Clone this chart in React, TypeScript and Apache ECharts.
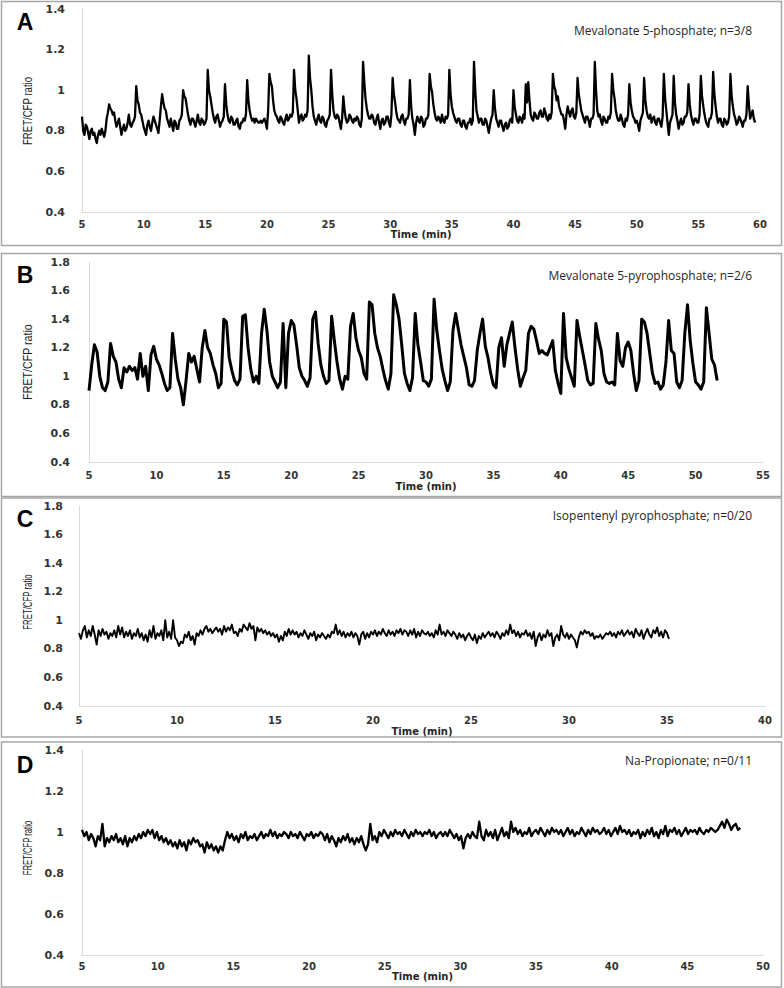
import React, { useEffect, useRef } from "react";
import * as echarts from "echarts";

// ---------- Data (FRET/CFP ratio traces, regular sampling) ----------
const A_START = 5;
const A_STEP = 0.1;
const A_VALUES = [
  0.87, 0.80, 0.78, 0.83, 0.82, 0.79, 0.76, 0.80, 0.81, 0.78, // 5
  0.79, 0.76, 0.74, 0.78, 0.80, 0.78, 0.81, 0.79, 0.77, 0.80, // 6
  0.86, 0.89, 0.93, 0.91, 0.90, 0.88, 0.89, 0.85, 0.82, 0.84, // 7
  0.86, 0.82, 0.78, 0.81, 0.83, 0.80, 0.81, 0.84, 0.88, 0.83, // 8
  0.82, 0.84, 0.85, 0.87, 1.02, 0.95, 0.93, 0.89, 0.88, 0.85, // 9
  0.82, 0.80, 0.78, 0.83, 0.85, 0.82, 0.80, 0.84, 0.87, 0.85, // 10
  0.83, 0.81, 0.79, 0.85, 0.92, 0.98, 0.94, 0.91, 0.90, 0.86, // 11
  0.84, 0.82, 0.86, 0.83, 0.80, 0.85, 0.84, 0.81, 0.81, 0.85, // 12
  0.86, 0.88, 1.00, 0.97, 0.96, 0.92, 0.88, 0.85, 0.83, 0.86, // 13
  0.86, 0.84, 0.82, 0.85, 0.88, 0.84, 0.83, 0.86, 0.85, 0.83, // 14
  0.84, 0.86, 1.10, 1.00, 0.97, 0.93, 0.89, 0.86, 0.84, 0.87, // 15
  0.88, 0.85, 0.82, 0.84, 0.85, 0.87, 1.03, 0.93, 0.88, 0.85, // 16
  0.84, 0.87, 0.86, 0.83, 0.83, 0.85, 0.86, 0.82, 0.81, 0.84, // 17
  0.84, 0.86, 0.85, 0.88, 1.05, 0.95, 0.90, 0.87, 0.85, 0.86, // 18
  0.84, 0.86, 0.85, 0.84, 0.84, 0.85, 0.84, 0.85, 0.86, 0.84, // 19
  0.81, 0.90, 1.08, 1.04, 1.02, 0.95, 0.90, 0.88, 0.87, 0.85, // 20
  0.84, 0.87, 0.86, 0.84, 0.83, 0.86, 0.88, 0.85, 0.86, 0.88, // 21
  0.87, 0.89, 1.10, 1.00, 0.96, 0.90, 0.84, 0.87, 0.88, 0.85, // 22
  0.86, 0.88, 0.87, 0.90, 1.17, 1.06, 1.00, 0.92, 0.87, 0.85, // 23
  0.83, 0.86, 0.88, 0.85, 0.84, 0.87, 0.86, 0.83, 0.82, 0.85, // 24
  0.86, 0.88, 1.10, 0.98, 0.90, 0.87, 0.86, 0.88, 0.87, 0.84, // 25
  0.81, 0.86, 0.97, 0.90, 0.86, 0.84, 0.85, 0.88, 0.87, 0.85, // 26
  0.84, 0.86, 0.85, 0.87, 0.86, 0.83, 0.82, 0.86, 1.14, 1.04, // 27
  0.96, 0.91, 0.88, 0.86, 0.86, 0.88, 0.87, 0.84, 0.83, 0.86, // 28
  0.88, 0.84, 0.81, 0.85, 0.86, 0.83, 0.84, 0.87, 0.87, 0.84, // 29
  0.82, 0.88, 1.06, 0.98, 0.94, 0.89, 0.86, 0.85, 0.84, 0.87, // 30
  0.88, 0.85, 0.83, 0.86, 0.86, 0.88, 1.05, 0.92, 0.86, 0.83, // 31
  0.78, 0.84, 0.87, 0.85, 0.84, 0.87, 0.86, 0.82, 0.83, 0.86, // 32
  0.86, 0.88, 1.08, 1.02, 0.99, 0.93, 0.89, 0.86, 0.85, 0.87, // 33
  0.86, 0.84, 0.88, 0.85, 0.84, 0.87, 0.86, 0.88, 1.10, 0.98, // 34
  0.92, 0.89, 0.87, 0.85, 0.84, 0.86, 0.86, 0.83, 0.82, 0.85, // 35
  0.85, 0.82, 0.81, 0.84, 0.84, 0.86, 0.83, 0.85, 1.14, 1.00, // 36
  0.90, 0.87, 0.84, 0.86, 0.86, 0.83, 0.83, 0.86, 0.85, 0.82, // 37
  0.79, 0.83, 0.86, 0.88, 1.00, 0.91, 0.86, 0.84, 0.82, 0.85, // 38
  0.85, 0.82, 0.80, 0.83, 0.84, 0.81, 0.82, 0.85, 0.86, 0.84, // 39
  1.00, 0.92, 0.88, 0.85, 0.84, 0.87, 0.86, 0.84, 0.88, 0.86, // 40
  1.03, 0.94, 1.04, 0.95, 0.88, 0.86, 0.85, 0.89, 0.88, 0.86, // 41
  0.86, 0.89, 0.90, 0.87, 0.87, 0.91, 0.89, 0.86, 0.85, 0.88, // 42
  0.86, 0.89, 1.08, 1.02, 1.00, 0.95, 0.97, 0.92, 0.90, 0.88, // 43
  0.88, 0.85, 0.81, 0.88, 0.92, 0.89, 0.87, 0.90, 0.91, 0.87, // 44
  0.86, 0.89, 1.06, 0.98, 0.94, 0.90, 0.88, 0.86, 0.84, 0.87, // 45
  0.87, 0.85, 0.82, 0.86, 0.86, 0.88, 1.14, 1.00, 0.90, 0.87, // 46
  0.88, 0.85, 0.83, 0.87, 0.86, 0.84, 0.84, 0.87, 0.86, 0.89, // 47
  1.08, 1.00, 0.96, 0.90, 0.87, 0.85, 0.85, 0.88, 0.86, 0.83, // 48
  0.82, 0.86, 0.85, 0.88, 1.03, 0.94, 0.90, 0.87, 0.86, 0.84, // 49
  0.85, 0.83, 0.80, 0.85, 0.87, 0.89, 1.06, 0.95, 0.90, 0.87, // 50
  0.86, 0.88, 0.84, 0.86, 0.87, 0.84, 0.83, 0.86, 0.86, 0.84, // 51
  0.82, 0.87, 1.08, 0.96, 0.90, 0.84, 0.78, 0.84, 0.86, 0.88, // 52
  1.07, 0.94, 0.88, 0.85, 0.81, 0.84, 0.86, 0.83, 0.84, 0.87, // 53
  0.87, 0.89, 1.03, 0.93, 0.88, 0.85, 0.83, 0.86, 0.86, 0.84, // 54
  0.84, 0.88, 1.07, 0.97, 0.92, 0.88, 0.85, 0.83, 0.82, 0.86, // 55
  0.86, 0.89, 1.09, 0.98, 0.92, 0.87, 0.84, 0.86, 0.86, 0.83, // 56
  0.82, 0.86, 0.85, 0.83, 0.84, 0.87, 1.08, 0.97, 0.92, 0.88, // 57
  0.86, 0.83, 0.84, 0.87, 0.86, 0.84, 0.82, 0.85, 0.85, 0.88, // 58
  1.02, 0.93, 0.86, 0.88, 0.90, 0.86, 0.84, // 59
];

const B_START = 5;
const B_STEP = 0.2;
const B_VALUES = [
  0.90, 1.08, 1.22, 1.17, 1.00, // 5
  0.92, 0.90, 0.96, 1.23, 1.14, // 6
  1.10, 0.98, 0.92, 1.06, 1.03, // 7
  1.07, 1.04, 1.06, 0.98, 1.16, // 8
  1.00, 1.07, 0.90, 1.15, 1.21, // 9
  1.12, 1.08, 1.02, 0.95, 0.90, // 10
  0.92, 1.30, 1.12, 0.98, 0.92, // 11
  0.80, 0.97, 1.16, 1.10, 1.14, // 12
  1.05, 0.96, 1.20, 1.32, 1.20, // 13
  1.16, 1.08, 1.02, 0.92, 0.95, // 14
  1.40, 1.38, 1.13, 1.04, 0.97, // 15
  0.94, 0.98, 1.42, 1.43, 1.20, // 16
  1.05, 0.96, 1.00, 0.95, 1.30, // 17
  1.47, 1.32, 1.10, 1.00, 0.96, // 18
  0.92, 0.96, 1.37, 0.92, 1.30, // 19
  1.39, 1.36, 1.22, 1.06, 1.00, // 20
  0.97, 0.93, 0.99, 1.40, 1.45, // 21
  1.23, 1.08, 1.00, 0.95, 0.97, // 22
  1.42, 1.25, 1.10, 0.98, 0.91, // 23
  1.00, 0.98, 1.35, 1.44, 1.27, // 24
  1.18, 1.13, 1.02, 0.98, 1.52, // 25
  1.50, 1.30, 1.20, 1.14, 1.05, // 26
  0.97, 0.91, 1.02, 1.57, 1.50, // 27
  1.40, 1.22, 1.02, 0.95, 0.90, // 28
  0.99, 1.44, 1.22, 1.10, 0.97, // 29
  0.96, 0.93, 0.98, 1.54, 1.32, // 30
  1.18, 1.05, 0.97, 0.90, 0.96, // 31
  1.32, 1.44, 1.33, 1.22, 1.14, // 32
  1.06, 0.94, 0.93, 0.97, 1.18, // 33
  1.30, 1.40, 1.21, 1.13, 1.02, // 34
  0.94, 0.92, 1.20, 1.27, 1.07, // 35
  1.22, 1.30, 1.38, 1.20, 1.05, // 36
  0.93, 0.99, 1.04, 1.30, 1.35, // 37
  1.33, 1.25, 1.16, 1.18, 1.16, // 38
  1.15, 1.20, 1.25, 1.04, 0.95, // 39
  0.88, 1.44, 1.13, 1.05, 0.99, // 40
  0.93, 1.39, 1.28, 1.18, 1.08, // 41
  0.97, 0.94, 0.95, 1.37, 1.26, // 42
  1.18, 1.02, 0.96, 0.95, 0.96, // 43
  0.94, 1.30, 1.11, 1.07, 1.20, // 44
  1.24, 1.18, 1.02, 0.90, 0.97, // 45
  1.40, 1.38, 1.30, 1.16, 1.02, // 46
  0.95, 0.96, 0.91, 0.94, 1.10, // 47
  1.39, 1.18, 1.16, 0.96, 0.92, // 48
  0.97, 1.30, 1.50, 1.25, 1.09, // 49
  0.96, 0.94, 0.91, 0.96, 1.48, // 50
  1.30, 1.12, 1.08, 0.97, // 51
];

const C_START = 5;
const C_STEP = 0.1;
const C_VALUES = [
  0.91, 0.87, 0.93, 0.96, 0.88, 0.93, 0.89, 0.96, 0.90, 0.83, // 5
  0.93, 0.89, 0.94, 0.90, 0.92, 0.87, 0.91, 0.89, 0.93, 0.88, // 6
  0.96, 0.90, 0.95, 0.88, 0.92, 0.89, 0.93, 0.87, 0.91, 0.89, // 7
  0.94, 0.88, 0.91, 0.86, 0.90, 0.85, 0.93, 0.88, 0.96, 0.87, // 8
  0.91, 0.89, 0.93, 0.86, 1.00, 0.88, 0.92, 0.87, 1.00, 0.88, // 9
  0.86, 0.82, 0.85, 0.84, 0.90, 0.88, 0.92, 0.86, 0.89, 0.83, // 10
  0.91, 0.89, 0.93, 0.90, 0.94, 0.96, 0.92, 0.94, 0.91, 0.93, // 11
  0.95, 0.92, 0.94, 0.90, 0.96, 0.92, 0.95, 0.93, 0.97, 0.91, // 12
  0.92, 0.89, 0.94, 0.92, 0.97, 0.95, 0.93, 0.98, 0.94, 0.96, // 13
  0.86, 0.95, 0.92, 0.94, 0.91, 0.93, 0.90, 0.92, 0.89, 0.91, // 14
  0.88, 0.90, 0.85, 0.89, 0.86, 0.92, 0.89, 0.94, 0.90, 0.93, // 15
  0.90, 0.92, 0.88, 0.91, 0.89, 0.93, 0.90, 0.87, 0.91, 0.89, // 16
  0.92, 0.86, 0.90, 0.88, 0.91, 0.89, 0.87, 0.90, 0.88, 0.92, // 17
  0.91, 0.97, 0.90, 0.93, 0.89, 0.92, 0.88, 0.91, 0.89, 0.92, // 18
  0.88, 0.91, 0.89, 0.83, 0.90, 0.92, 0.87, 0.91, 0.88, 0.92, // 19
  0.90, 0.93, 0.89, 0.92, 0.90, 0.94, 0.91, 0.89, 0.93, 0.90, // 20
  0.92, 0.89, 0.93, 0.91, 0.94, 0.90, 0.93, 0.92, 0.89, 0.93, // 21
  0.90, 0.94, 0.88, 0.92, 0.89, 0.93, 0.91, 0.90, 0.92, 0.89, // 22
  0.91, 0.88, 0.93, 0.90, 0.97, 0.90, 0.92, 0.89, 0.93, 0.91, // 23
  0.89, 0.92, 0.90, 0.87, 0.91, 0.88, 0.90, 0.86, 0.89, 0.91, // 24
  0.88, 0.86, 0.90, 0.84, 0.89, 0.87, 0.91, 0.88, 0.90, 0.92, // 25
  0.89, 0.91, 0.88, 0.92, 0.90, 0.87, 0.91, 0.89, 0.93, 0.90, // 26
  0.97, 0.91, 0.93, 0.89, 0.92, 0.88, 0.91, 0.90, 0.93, 0.89, // 27
  0.91, 0.87, 0.92, 0.82, 0.88, 0.91, 0.86, 0.90, 0.88, 0.93, // 28
  0.89, 0.91, 0.82, 0.88, 0.90, 0.86, 0.96, 0.90, 0.88, 0.91, // 29
  0.87, 0.90, 0.88, 0.86, 0.81, 0.88, 0.92, 0.90, 0.93, 0.91, // 30
  0.92, 0.89, 0.91, 0.87, 0.89, 0.88, 0.90, 0.87, 0.89, 0.91, // 31
  0.90, 0.92, 0.89, 0.91, 0.88, 0.92, 0.90, 0.93, 0.89, 0.91, // 32
  0.93, 0.90, 0.92, 0.88, 0.94, 0.91, 0.89, 0.93, 0.87, 0.91, // 33
  0.94, 0.90, 0.88, 0.93, 0.91, 0.95, 0.89, 0.92, 0.88, 0.93, // 34
  0.91, 0.87, // 35
];

const D_START = 5;
const D_STEP = 0.15;
const D_VALUES = [
  1.01, 0.98, 1.00, 0.96, 0.99, 0.97, 0.93, 0.98, 0.96, 1.04, // 5.0
  0.93, 0.97, 0.95, 0.98, 0.96, 0.99, 0.95, 0.97, 0.94, 0.98, // 6.5
  0.93, 0.97, 0.95, 0.98, 0.96, 0.99, 0.97, 1.00, 0.98, 1.01, // 8.0
  0.99, 1.01, 0.97, 1.00, 0.96, 0.98, 0.95, 0.97, 0.94, 0.96, // 9.5
  0.93, 0.95, 0.92, 0.96, 0.93, 0.95, 0.91, 0.96, 0.94, 0.97, // 11.0
  0.95, 0.96, 0.93, 0.94, 0.90, 0.95, 0.92, 0.94, 0.91, 0.93, // 12.5
  0.90, 0.93, 0.91, 0.96, 1.00, 0.97, 0.99, 0.96, 0.98, 0.95, // 14.0
  0.99, 0.97, 1.00, 0.96, 0.98, 0.97, 0.99, 0.96, 0.98, 1.00, // 15.5
  0.97, 0.99, 0.98, 1.01, 0.98, 1.00, 0.97, 0.99, 0.98, 1.00, // 17.0
  0.99, 0.97, 1.00, 0.98, 0.99, 0.97, 1.00, 0.98, 0.96, 0.99, // 18.5
  0.98, 1.00, 0.97, 0.99, 0.98, 1.00, 0.99, 0.96, 0.99, 0.95, // 20.0
  0.98, 0.96, 0.93, 0.97, 0.95, 0.98, 0.96, 0.99, 0.95, 0.97, // 21.5
  0.94, 0.97, 0.95, 0.98, 0.94, 0.91, 0.94, 1.04, 0.96, 0.98, // 23.0
  0.95, 1.00, 0.98, 1.01, 0.99, 0.97, 1.00, 0.98, 1.01, 0.99, // 24.5
  1.00, 0.98, 1.01, 0.99, 0.97, 1.00, 0.98, 1.01, 0.99, 1.00, // 26.0
  0.98, 1.00, 0.99, 1.01, 0.98, 1.00, 0.97, 0.99, 1.00, 0.98, // 27.5
  1.00, 0.98, 1.01, 0.99, 0.97, 0.99, 0.96, 0.98, 0.92, 0.97, // 29.0
  0.99, 0.97, 1.00, 0.98, 0.97, 1.05, 0.98, 0.96, 1.01, 0.98, // 30.5
  1.00, 0.97, 1.01, 0.96, 0.99, 1.02, 0.98, 1.00, 0.97, 1.05, // 32.0
  1.00, 1.02, 0.99, 1.01, 0.98, 1.00, 0.99, 1.02, 0.98, 1.00, // 33.5
  1.01, 0.99, 1.02, 1.00, 0.98, 1.01, 0.99, 1.02, 1.00, 1.01, // 35.0
  0.99, 1.01, 0.98, 1.00, 1.02, 0.99, 1.01, 0.98, 1.00, 0.99, // 36.5
  1.02, 1.00, 0.98, 1.01, 0.99, 1.02, 1.00, 1.01, 0.99, 1.00, // 38.0
  1.02, 0.99, 1.01, 0.98, 1.00, 1.02, 0.99, 1.03, 1.00, 1.01, // 39.5
  0.99, 1.01, 0.98, 1.00, 0.99, 1.01, 0.97, 1.00, 0.98, 1.01, // 41.0
  0.99, 1.02, 0.98, 1.00, 0.97, 1.01, 0.99, 1.03, 0.98, 1.01, // 42.5
  1.00, 1.02, 0.99, 1.01, 0.98, 1.00, 1.02, 0.99, 1.01, 1.00, // 44.0
  1.01, 0.99, 1.02, 1.00, 0.99, 1.01, 1.00, 1.02, 1.01, 1.00, // 45.5
  1.01, 1.03, 1.05, 1.02, 1.06, 1.04, 1.01, 1.03, 1.04, 1.01, // 47.0
  1.02, // 48.5
];

const PANEL_LETTERS = ["A", "B", "C", "D"];
const PANEL_NOTES = [
  "Mevalonate 5-phosphate; n=3/8",
  "Mevalonate 5-pyrophosphate; n=2/6",
  "Isopentenyl pyrophosphate; n=0/20",
  "Na-Propionate; n=0/11",
];
const X_RANGES = [
  [5, 60],
  [5, 55],
  [5, 40],
  [5, 50],
];
const Y_RANGES = [
  [0.4, 1.4],
  [0.4, 1.8],
  [0.4, 1.8],
  [0.4, 1.4],
];
const X_TITLE = "Time (min)";
const Y_TITLE = "FRET/CFP ratio";

// ---------- Layout ----------
const W = 784;
const H = 988;
const PANELS = [
  { box: [1.5, 1.5, 780, 244], grid: [82, 9, 678, 203], ylm: 17, xlm: 7, gap: 17, yname: [27.5, 111, 0.74], lw: 2.3 },
  { box: [1.5, 253.5, 780, 243], grid: [89, 262, 674, 200], ylm: 19, xlm: 8, gap: 19, yname: [28, 362, 0.82], lw: 3 },
  { box: [1.5, 498, 780, 239], grid: [79, 506, 686, 200], ylm: 16, xlm: 9, gap: 20, yname: [27, 602, 0.6], lw: 1.9 },
  { box: [1.5, 742, 780, 245], grid: [82, 750, 681, 205], ylm: 18, xlm: 6, gap: 16, yname: [27, 848, 0.59], lw: 2.3 },
];
const LETTER_Y = [22, 275, 519, 765];
const NOTE_Y = [30, 275, 515, 760];

function toPairs(start: number, step: number, vals: number[]) {
  return vals.map((v, i) => [Math.round((start + i * step) * 1000) / 1000, v]);
}

export default function App() {
  const ref = useRef<HTMLDivElement>(null);
  useEffect(() => {
    document.body.style.margin = "0";
    if (!ref.current) return;
    const chart = echarts.init(ref.current, undefined, { renderer: "svg" });
    const seriesData = [
      toPairs(A_START, A_STEP, A_VALUES),
      toPairs(B_START, B_STEP, B_VALUES),
      toPairs(C_START, C_STEP, C_VALUES),
      toPairs(D_START, D_STEP, D_VALUES),
    ];
    const tickFont = {
      fontFamily: "'DejaVu Sans', Verdana, sans-serif",
      fontWeight: "bold" as const,
      fontSize: 10,
      color: "#333333",
    };
    const grid = PANELS.map((p) => ({
      left: p.grid[0],
      top: p.grid[1],
      width: p.grid[2],
      height: p.grid[3],
      containLabel: false,
    }));
    const xAxis = PANELS.map((p, i) => ({
      type: "value",
      gridIndex: i,
      min: X_RANGES[i][0],
      max: X_RANGES[i][1],
      interval: 5,
      name: X_TITLE,
      nameLocation: "middle",
      nameGap: p.gap,
      nameTextStyle: { ...tickFont, fontSize: 10, color: "#262626" },
      axisLine: { show: true, lineStyle: { color: "#d9d9d9", width: 1 } },
      axisTick: { show: false },
      splitLine: { show: false },
      axisLabel: { ...tickFont, margin: p.xlm },
    }));
    const yAxis = PANELS.map((p, i) => ({
      type: "value",
      gridIndex: i,
      min: Y_RANGES[i][0],
      max: Y_RANGES[i][1],
      interval: 0.2,
      axisLine: { show: true, lineStyle: { color: "#d9d9d9", width: 1 } },
      axisTick: { show: false },
      splitLine: { show: false },
      axisLabel: { ...tickFont, fontSize: 11, margin: p.ylm },
    }));
    const series = seriesData.map((d, i) => ({
      type: "line",
      xAxisIndex: i,
      yAxisIndex: i,
      data: d,
      showSymbol: false,
      symbol: "none",
      lineStyle: { color: "#000000", width: PANELS[i].lw, join: "round" },
      z: 3,
    }));
    const graphic: any[] = [];
    PANELS.forEach((p, i) => {
      graphic.push({
        type: "rect",
        shape: { x: p.box[0], y: p.box[1], width: p.box[2], height: p.box[3] },
        style: { fill: "none", stroke: "#a6a6a6", lineWidth: 1.5 },
        silent: true,
        z: 0,
      });
      graphic.push({
        type: "text",
        x: 25,
        y: LETTER_Y[i],
        style: {
          text: PANEL_LETTERS[i],
          fontFamily: "'Liberation Sans', Arial, sans-serif",
          fontWeight: "bold",
          fontSize: 23,
          fill: "#000",
          align: "center",
          verticalAlign: "middle",
        },
      });
      graphic.push({
        type: "text",
        x: 752,
        y: NOTE_Y[i],
        style: {
          text: PANEL_NOTES[i],
          fontFamily: "'Open Sans', sans-serif",
          fontSize: 12,
          fill: "#262626",
          align: "right",
          verticalAlign: "middle",
        },
      });
      graphic.push({
        type: "text",
        x: p.yname[0],
        y: p.yname[1],
        rotation: Math.PI / 2,
        scaleX: p.yname[2],
        style: {
          text: Y_TITLE,
          fontFamily: "'Liberation Sans', Arial, sans-serif",
          fontSize: 13,
          fill: "#1a1a1a",
          align: "center",
          verticalAlign: "middle",
        },
      });
    });
    chart.setOption({
      animation: false,
      backgroundColor: "#ffffff",
      grid,
      xAxis,
      yAxis,
      series,
      graphic,
    });
    return () => chart.dispose();
  }, []);
  return <div ref={ref} style={{ width: W, height: H }} />;
}
